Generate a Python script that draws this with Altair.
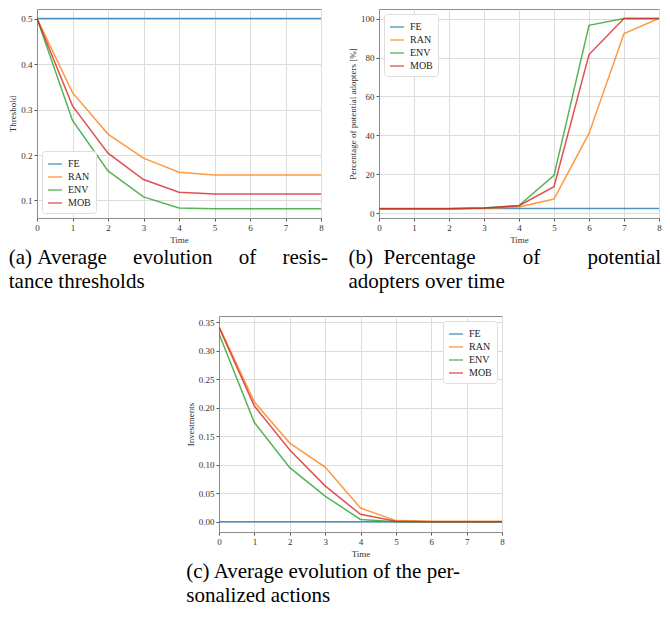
import altair as alt
import pandas as pd

times = [0, 1, 2, 3, 4, 5, 6, 7, 8]
strategies = ["FE", "RAN", "ENV", "MOB"]
colors = ["#1f77b4", "#ff7f0e", "#2ca02c", "#d62728"]

# (a) resistance thresholds
thr_fe = [0.5, 0.5, 0.5, 0.5, 0.5, 0.5, 0.5, 0.5, 0.5]
thr_ran = [0.5, 0.337, 0.246, 0.193, 0.162, 0.156, 0.156, 0.156, 0.156]
thr_env = [0.5, 0.276, 0.165, 0.108, 0.0835, 0.082, 0.082, 0.082, 0.082]
thr_mob = [0.5, 0.308, 0.204, 0.146, 0.118, 0.114, 0.114, 0.114, 0.114]

# (b) percentage of potential adopters
ado_fe = [2.5, 2.5, 2.5, 2.5, 2.5, 2.5, 2.5, 2.5, 2.5]
ado_ran = [2.4, 2.4, 2.4, 2.6, 3.2, 7.3, 41.0, 92.3, 100.0]
ado_env = [2.4, 2.4, 2.4, 2.7, 4.0, 19.5, 96.5, 100.0, 100.0]
ado_mob = [2.4, 2.4, 2.4, 2.7, 3.9, 13.7, 81.5, 100.0, 100.0]

# (c) investments
inv_fe = [0.0, 0.0, 0.0, 0.0, 0.0, 0.0, 0.0, 0.0, 0.0]
inv_ran = [0.343, 0.210, 0.138, 0.096, 0.024, 0.002, 0.001, 0.001, 0.001]
inv_env = [0.330, 0.174, 0.095, 0.045, 0.004, 0.0, 0.0, 0.0, 0.0]
inv_mob = [0.341, 0.203, 0.126, 0.063, 0.013, 0.001, 0.0, 0.0, 0.0]

yticks_a = [0.1, 0.2, 0.3, 0.4, 0.5]
yticks_b = [0, 20, 40, 60, 80, 100]
yticks_c = [0.0, 0.05, 0.10, 0.15, 0.20, 0.25, 0.30, 0.35]

NB = "\u00a0"
cap_a = ["(a)" + NB + "Average" + NB * 5 + "evolution" + NB * 5 + "of" + NB * 5 + "resis-",
         "tance thresholds"]
cap_b = ["(b)" + NB * 2 + "Percentage" + NB * 9 + "of" + NB * 9 + "potential",
         "adopters over time"]
cap_c = ["(c) Average evolution of the per-", "sonalized actions"]

SERIF = "Liberation Serif"


def long_df(series):
    rows = []
    for name, vals in zip(strategies, series):
        for t, v in zip(times, vals):
            rows.append({"Time": t, "Value": v, "Strategy": name})
    return pd.DataFrame(rows)


def panel(df, ytitle, ydomain, yticks, yfmt, legend_orient, w, h, caption):
    return alt.Chart(df).mark_line(strokeWidth=1.5, opacity=0.8, clip=True).encode(
        x=alt.X("Time:Q",
                scale=alt.Scale(domain=[0, 8], nice=False, zero=False),
                axis=alt.Axis(values=times, format="d", title="Time")),
        y=alt.Y("Value:Q",
                scale=alt.Scale(domain=ydomain, nice=False, zero=False),
                axis=alt.Axis(values=yticks, format=yfmt, title=ytitle)),
        color=alt.Color("Strategy:N",
                        scale=alt.Scale(domain=strategies, range=colors),
                        sort=strategies,
                        legend=alt.Legend(title=None, orient=legend_orient, offset=5)),
    ).properties(
        width=w, height=h,
        title=alt.TitleParams(caption, orient="bottom", anchor="start", frame="bounds",
                              offset=3, font=SERIF, fontSize=21,
                              fontWeight="normal", color="black", lineHeight=24),
    )


pa = panel(long_df([thr_fe, thr_ran, thr_env, thr_mob]), "Threshold",
           [0.0615, 0.521], yticks_a, ".1f", "bottom-left", 284, 209, cap_a)
pb = panel(long_df([ado_fe, ado_ran, ado_env, ado_mob]), "Percentage of potential adopters [%]",
           [-2.4, 104.9], yticks_b, "d", "top-left", 280, 209, cap_b)
pc = panel(long_df([inv_fe, inv_ran, inv_env, inv_mob]), "Investments",
           [-0.018, 0.361], yticks_c, ".2f", "top-right", 283, 216, cap_c)

spacer = alt.Chart(pd.DataFrame({"s": [0]})).mark_point(opacity=0).encode(
    x=alt.X("s:Q", axis=None), y=alt.Y("s:Q", axis=None)
).properties(width=139, height=10, view=alt.ViewConfig(strokeOpacity=0))

top = alt.hconcat(pa, pb, spacing=58, bounds="flush").resolve_scale(
    color="independent").resolve_legend(color="independent")
bottom = alt.hconcat(spacer, pc, spacing=9).resolve_scale(
    color="independent").resolve_legend(color="independent")
chart = alt.vconcat(top, bottom, spacing=22).resolve_scale(
    color="independent").resolve_legend(color="independent").properties(
    padding={"left": 0, "top": 0, "right": 0, "bottom": 0}
).configure_view(
    stroke="#8c8c8c", strokeWidth=1
).configure_axis(
    labelFont=SERIF, titleFont=SERIF, labelFontSize=9, titleFontSize=9,
    labelColor="#333", titleColor="#333", titleFontWeight="normal",
    grid=True, gridColor="#dcdcdc", gridWidth=1,
    domain=True, domainColor="#8c8c8c", tickColor="#555", tickSize=3,
    labelPadding=2, titlePadding=3, labelFlush=False,
).configure_legend(
    symbolType="stroke", symbolSize=196, symbolStrokeWidth=1.5, symbolOpacity=0.7,
    labelFont=SERIF, labelFontSize=10, labelColor="#222",
    strokeColor="#dddddd", fillColor="white", cornerRadius=3, padding=5,
    rowPadding=0, labelOffset=5,
)

chart.save("out.html", embed_options={"renderer": "svg", "actions": False})
